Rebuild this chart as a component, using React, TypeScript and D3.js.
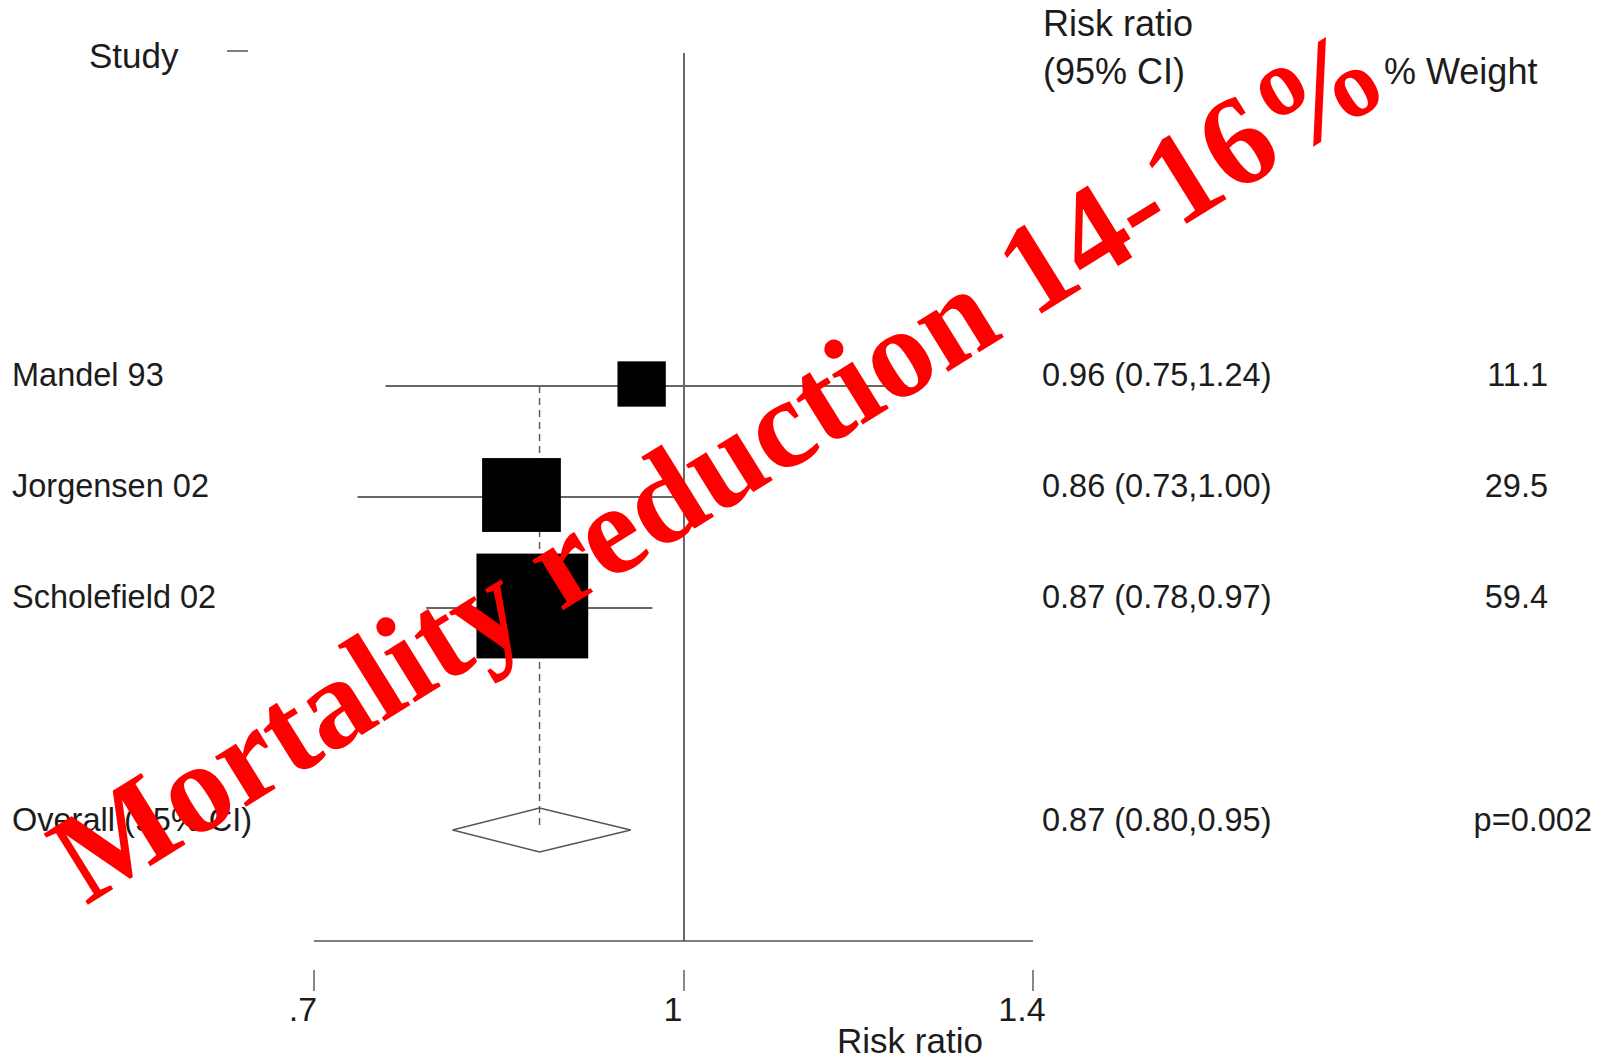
import React from "react";
import * as d3 from "d3";

const studies = ["Mandel 93", "Jorgensen 02", "Scholefield 02"];
const rr = [0.96, 0.855, 0.864];
const lo = [0.75, 0.73, 0.78];
const hi = [1.24, 1.0, 0.97];
const weights = [11.1, 29.5, 59.4];
const ciLabels = ["0.96 (0.75,1.24)", "0.86 (0.73,1.00)", "0.87 (0.78,0.97)"];
const weightLabels = ["11.1", "29.5", "59.4"];

const overallLabel = "Overall (95% CI)";
const overallRR = 0.87;
const overallLo = 0.8;
const overallHi = 0.95;
const overallCILabel = "0.87 (0.80,0.95)";
const overallP = "p=0.002";

const xTicks = [0.7, 1, 1.4];
const xTickLabels = [".7", "1", "1.4"];
const watermark = "Mortality reduction 14-16%";

const W = 1605;
const H = 1061;
const SANS = "'Liberation Sans', Arial, Helvetica, sans-serif";
const TXT = "#1c1c1c";

export default function App() {
  const x = d3.scaleLog().domain([0.7, 1.4]).range([314, 1033]);
  // row positions: study rows 1..3, overall at 5; frame spans -2..6
  const y = d3.scaleLinear().domain([1, 5]).range([386, 830]);
  const boxW = (w: number) => 14.5 * Math.sqrt(w);
  const boxH = (w: number) => 13.6 * Math.sqrt(w);

  const yo = y(5);
  const diamond = d3.line()([
    [x(overallLo), yo],
    [x(overallRR), yo - 22],
    [x(overallHi), yo],
    [x(overallRR), yo + 22],
  ]) + "Z";

  const axisY = y(6);
  const lineTop = y(-2);

  return (
    <svg
      width={W}
      height={H}
      viewBox={`0 0 ${W} ${H}`}
      style={{ position: "absolute", left: 0, top: 0, background: "#fff" }}
    >
      <rect x={0} y={0} width={W} height={H} fill="#fff" />

      {/* headers */}
      <text x={89} y={68} fontFamily={SANS} fontSize={35} fill={TXT}>Study</text>
      <line x1={227} x2={248} y1={51} y2={51} stroke="#555" strokeWidth={1.5} />
      <text x={1043} y={36} fontFamily={SANS} fontSize={36} fill={TXT}>Risk ratio</text>
      <text x={1043} y={84} fontFamily={SANS} fontSize={36} fill={TXT}>(95% CI)</text>
      <text x={1384} y={84} fontFamily={SANS} fontSize={36} fill={TXT}>% Weight</text>

      {/* null line */}
      <line x1={x(1)} x2={x(1)} y1={lineTop} y2={axisY} stroke="#444" strokeWidth={1.6} />

      {/* overall dashed line */}
      <line
        x1={x(overallRR)}
        x2={x(overallRR)}
        y1={y(1)}
        y2={yo}
        stroke="#555"
        strokeWidth={1.4}
        strokeDasharray="7,5"
      />

      {/* studies */}
      {studies.map((s, i) => {
        const yy = y(i + 1);
        const bw = boxW(weights[i]);
        const bh = boxH(weights[i]);
        return (
          <g key={s}>
            <line x1={x(lo[i])} x2={x(hi[i])} y1={yy} y2={yy} stroke="#666" strokeWidth={1.9} />
            <rect x={x(rr[i]) - bw / 2} y={yy - 2 - bh / 2} width={bw} height={bh} fill="#000" />
            <text x={12} y={yy} fontFamily={SANS} fontSize={32.5} fill={TXT}>{s}</text>
            <text x={1042} y={yy} fontFamily={SANS} fontSize={32.5} fill={TXT}>{ciLabels[i]}</text>
            <text x={1548} y={yy} fontFamily={SANS} fontSize={32.5} fill={TXT} textAnchor="end">{weightLabels[i]}</text>
          </g>
        );
      })}

      {/* overall */}
      <path d={diamond} fill="none" stroke="#555" strokeWidth={1.5} />
      <text x={12} y={yo + 1} fontFamily={SANS} fontSize={32.5} fill={TXT}>{overallLabel}</text>
      <text x={1042} y={yo + 1} fontFamily={SANS} fontSize={32.5} fill={TXT}>{overallCILabel}</text>
      <text x={1592} y={yo + 1} fontFamily={SANS} fontSize={32.5} fill={TXT} textAnchor="end">{overallP}</text>

      {/* x axis */}
      <line x1={x(0.7)} x2={x(1.4)} y1={axisY} y2={axisY} stroke="#555" strokeWidth={1.6} />
      {xTicks.map((t, i) => (
        <g key={t}>
          <line x1={x(t)} x2={x(t)} y1={970} y2={991} stroke="#555" strokeWidth={1.4} />
          <text x={x(t) - 11} y={1021} fontFamily={SANS} fontSize={34} fill={TXT} textAnchor="middle">
            {xTickLabels[i]}
          </text>
        </g>
      ))}
      <text x={910} y={1053} fontFamily={SANS} fontSize={35} fill={TXT} textAnchor="middle">Risk ratio</text>

      {/* watermark */}
      <text
        x={86}
        y={906}
        transform="rotate(-31.8 86 906)"
        fontFamily="'Liberation Serif', 'Times New Roman', serif"
        fontWeight="bold"
        fontSize={128}
        fill="#ff0000"
      >
        {watermark}
      </text>
    </svg>
  );
}
